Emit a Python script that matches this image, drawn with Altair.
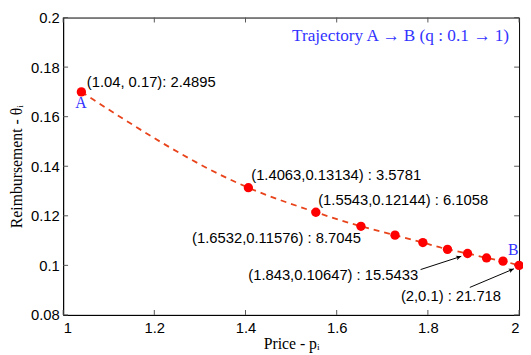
import altair as alt
import pandas as pd

# --- data ---
price = [1.04, 1.4063, 1.5543, 1.6532, 1.7279, 1.789, 1.843, 1.887, 1.9287, 1.9648, 2.0]
reimb = [0.17, 0.13134, 0.12144, 0.11576, 0.1122, 0.1092, 0.10647, 0.1048, 0.1030, 0.1017, 0.1]

x_ticks = [1, 1.2, 1.4, 1.6, 1.8, 2]
y_ticks = [0.08, 0.1, 0.12, 0.14, 0.16, 0.18, 0.2]

ann_text = ["(1.04, 0.17): 2.4895", "(1.4063,0.13134) : 3.5781", "(1.5543,0.12144) : 6.1058",
            "(1.6532,0.11576) : 8.7045", "(1.843,0.10647) : 15.5433", "(2,0.1) : 21.718"]
ann_x = [1.0518, 1.4125, 1.5594, 1.2829, 1.406, 1.7408]
ann_y = [0.1740, 0.1366, 0.1263, 0.1109, 0.0962, 0.0875]

end_text = ["A", "B"]
end_x = [1.0389, 1.987]
end_y = [0.1655, 0.1060]

arrow_x = [1.784, 1.892]
arrow_y = [0.0983, 0.0911]
arrow_x2 = [1.8732, 1.9886]
arrow_y2 = [0.10364, 0.0986]
arrow_angle = [342, 337]

title_text = ["Trajectory A → B (q : 0.1 → 1)"]
title_x = [1.978]
title_y = [0.1925]

W, H = 463, 302

pts = pd.DataFrame({"p": price, "t": reimb})
xs = alt.Scale(domain=[1, 2], nice=False, zero=False)
ys = alt.Scale(domain=[0.08, 0.2], nice=False, zero=False)

sans = "Liberation Sans"
serif = "Liberation Serif"

xaxis = alt.Axis(values=x_ticks, format="~g", ticks=False, grid=False, labelFont=sans,
                 labelFontSize=15, labelColor="black", labelPadding=6, domainColor="black",
                 title="Price - pᵢ", titleFont=serif, titleFontSize=16, titleFontWeight="normal",
                 titleColor="black", titlePadding=0)
yaxis = alt.Axis(values=y_ticks, format="~g", ticks=False, grid=False, labelFont=sans,
                 labelFontSize=15, labelColor="black", labelPadding=4, domainColor="black",
                 title="Reimbursement - θᵢ", titleFont=serif, titleFontSize=16,
                 titleFontWeight="normal", titleColor="black", titlePadding=6)

base = alt.Chart(pts)

line = base.mark_line(color="#e8431a", strokeDash=[6, 5], strokeWidth=1.8,
                      interpolate="monotone").encode(
    x=alt.X("p:Q", scale=xs, axis=xaxis), y=alt.Y("t:Q", scale=ys, axis=yaxis))
dots = base.mark_circle(color="#ff0000", size=90, opacity=1).encode(
    x=alt.X("p:Q", scale=xs), y=alt.Y("t:Q", scale=ys))

xt = pd.DataFrame({"v": x_ticks})
yt = pd.DataFrame({"v": y_ticks})
tick_style = dict(color="#555555", strokeWidth=1)
xt_b = alt.Chart(xt).mark_rule(**tick_style).encode(
    x=alt.X("v:Q", scale=xs), y=alt.value(H), y2=alt.value(H - 5))
xt_t = alt.Chart(xt).mark_rule(**tick_style).encode(
    x=alt.X("v:Q", scale=xs), y=alt.value(0), y2=alt.value(5))
yt_l = alt.Chart(yt).mark_rule(**tick_style).encode(
    y=alt.Y("v:Q", scale=ys), x=alt.value(0), x2=alt.value(5))
yt_r = alt.Chart(yt).mark_rule(**tick_style).encode(
    y=alt.Y("v:Q", scale=ys), x=alt.value(W), x2=alt.value(W - 5))

ann = alt.Chart(pd.DataFrame({"s": ann_text, "x": ann_x, "y": ann_y})).mark_text(
    align="left", baseline="middle", font=sans, fontSize=15, color="black").encode(
    x=alt.X("x:Q", scale=xs), y=alt.Y("y:Q", scale=ys), text="s:N")

ends = alt.Chart(pd.DataFrame({"s": end_text, "x": end_x, "y": end_y})).mark_text(
    align="center", baseline="middle", font=serif, fontSize=16, color="#3333ff").encode(
    x=alt.X("x:Q", scale=xs), y=alt.Y("y:Q", scale=ys), text="s:N")

arr = pd.DataFrame({"x": arrow_x, "y": arrow_y, "x2": arrow_x2, "y2": arrow_y2, "a": arrow_angle})
shafts = alt.Chart(arr).mark_rule(color="black", strokeWidth=1).encode(
    x=alt.X("x:Q", scale=xs), y=alt.Y("y:Q", scale=ys), x2="x2:Q", y2="y2:Q")
heads = alt.Chart(arr).mark_point(shape="M0,0L-1,-0.45L-0.75,0L-1,0.45Z", filled=True,
                                  color="black", size=110, opacity=1).encode(
    x=alt.X("x2:Q", scale=xs), y=alt.Y("y2:Q", scale=ys), angle=alt.Angle("a:Q", scale=None))

title = alt.Chart(pd.DataFrame({"s": title_text, "x": title_x, "y": title_y})).mark_text(
    align="right", baseline="middle", font=serif, fontSize=17.5, color="#3333ff").encode(
    x=alt.X("x:Q", scale=xs), y=alt.Y("y:Q", scale=ys), text="s:N")

chart = alt.layer(line, xt_b, xt_t, yt_l, yt_r, dots, shafts, heads, ann, ends, title).properties(
    width=W, height=H,
    autosize=alt.AutoSizeParams(type="none"),
    padding={"left": 56, "top": 7, "right": 4, "bottom": 38},
).configure_view(stroke="black", strokeWidth=1).configure_axis(domainWidth=1)

chart.save("out.html", embed_options={"renderer": "svg", "actions": False})
